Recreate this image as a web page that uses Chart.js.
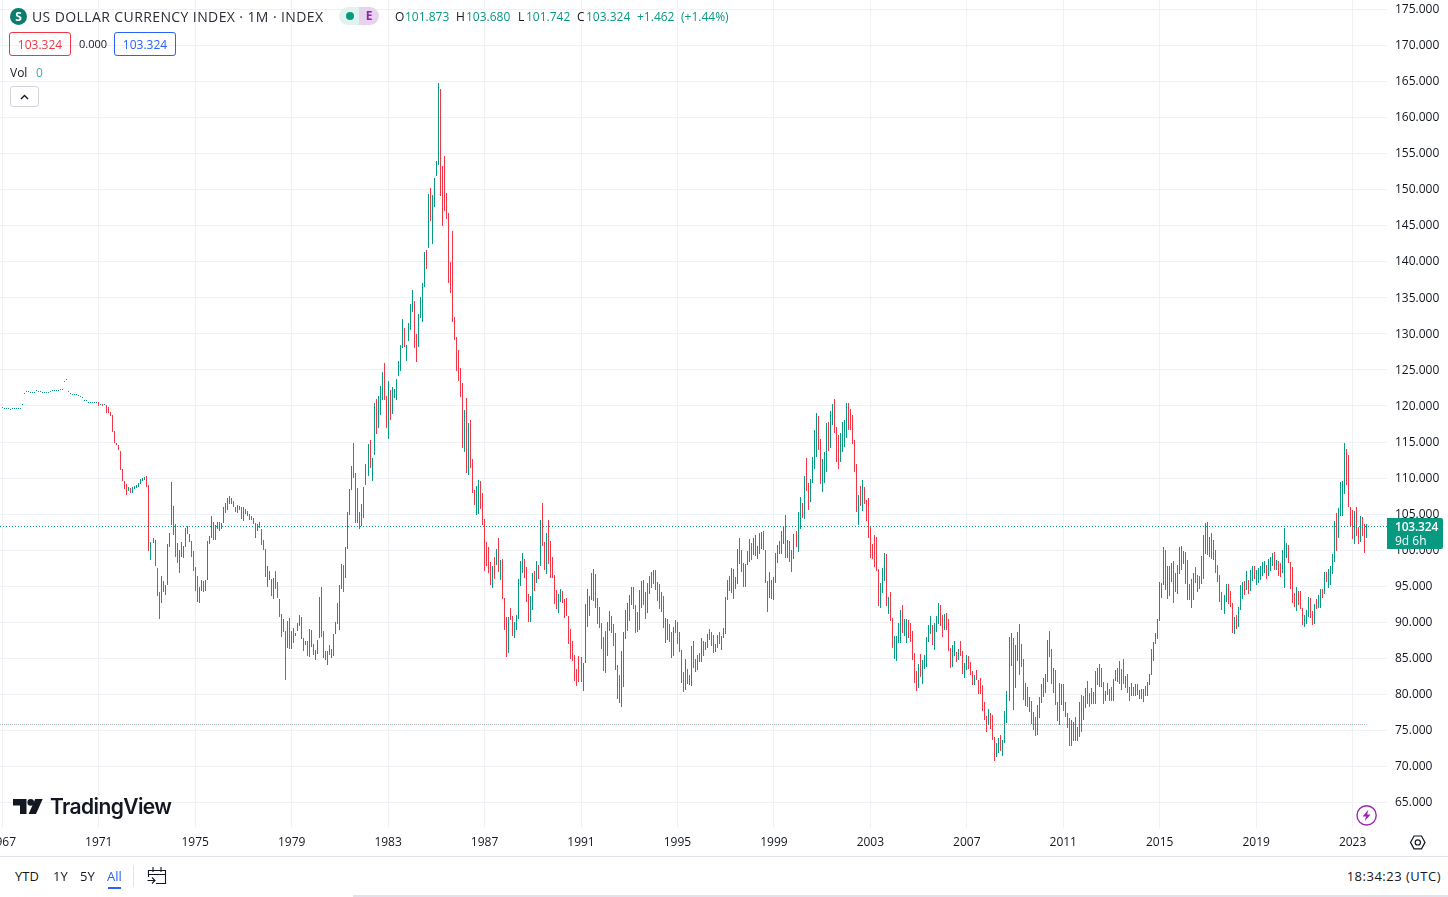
<!DOCTYPE html>
<html>
<head>
<meta charset="utf-8">
<title>US Dollar Currency Index</title>
<script src="https://cdn.jsdelivr.net/npm/chart.js@4/dist/chart.umd.min.js"></script>
<style>
  html, body { margin: 0; padding: 0; background: #fff; overflow: hidden; }
  body { width: 1448px; height: 897px; position: relative; font-family: "Open Sans", sans-serif; color: #131722; }
  canvas { position: absolute; left: 0; top: 0; }
  .t { position: absolute; white-space: nowrap; line-height: 16px; font-size: 12px; }
  .g { color: #089981; }
  .box { position: absolute; box-sizing: border-box; top: 32px; height: 24px; width: 62px; border: 1px solid; border-radius: 3px; text-align: center; line-height: 23px; font-size: 12px; }
  svg { position: absolute; overflow: visible; }
</style>
</head>
<body>
<canvas id="myChart" width="1448" height="857"></canvas>

<div style="position:absolute;left:10px;top:8px;width:17px;height:17px;border-radius:50%;background:#0a7d6c;color:#fff;font-size:12px;font-weight:700;text-align:center;line-height:17px">S</div>
<div class="t" style="left:32px;top:9px;font-size:14px;letter-spacing:.4px;color:#2a2e39">US DOLLAR CURRENCY INDEX · 1M · INDEX</div>
<div style="position:absolute;left:339px;top:7px;width:20px;height:18px;background:#e0f3ef;border-radius:9px 0 0 9px"></div>
<div style="position:absolute;left:346px;top:12px;width:8px;height:8px;background:#089981;border-radius:50%"></div>
<div style="position:absolute;left:359px;top:7px;width:20px;height:18px;background:#e7d3ee;border-radius:0 9px 9px 0;color:#8e24aa;font-size:12px;font-weight:700;text-align:center;line-height:18px">E</div>

<div class="t" style="left:395px;top:9px">O</div><div class="t g" style="left:405px;top:9px">101.873</div>
<div class="t" style="left:456px;top:9px">H</div><div class="t g" style="left:466px;top:9px">103.680</div>
<div class="t" style="left:518px;top:9px">L</div><div class="t g" style="left:526px;top:9px">101.742</div>
<div class="t" style="left:577px;top:9px">C</div><div class="t g" style="left:586px;top:9px">103.324</div>
<div class="t g" style="left:637px;top:9px">+1.462</div>
<div class="t g" style="left:681px;top:9px">(+1.44%)</div>

<div class="box" style="left:9px;border-color:#f23645;color:#f23645">103.324</div>
<div class="t" style="left:79px;top:36px;font-size:11px">0.000</div>
<div class="box" style="left:114px;border-color:#2962ff;color:#2962ff">103.324</div>

<div class="t" style="left:10px;top:65px">Vol</div>
<div class="t g" style="left:36px;top:65px;opacity:.8">0</div>
<div style="position:absolute;left:10px;top:86px;width:29px;height:21px;box-sizing:border-box;border:1px solid #d1d4dc;border-radius:3px"></div>
<svg style="left:0;top:0;z-index:2" width="1448" height="897">
  <path d="M21 99 L24.5 95.5 L28 99" fill="none" stroke="#131722" stroke-width="1.4"/>
  <path d="M13 799 H26.5 V814 H20 V805.5 H13 Z" fill="#131722"/>
  <circle cx="30.7" cy="802.4" r="3.3" fill="#131722"/>
  <path d="M35.2 799 H42.7 L36 814 H28.6 Z" fill="#131722"/>
  <circle cx="1366.6" cy="815.4" r="9.6" fill="#fff" stroke="#9c27b0" stroke-width="1.4"/>
  <path d="M1368.3 809.8 L1362.6 816.4 H1366 L1364.8 821 L1370.6 814.4 H1367.2 Z" fill="#9c27b0"/>
  <path d="M1414 836 H1421.5 L1425 842.4 L1421.5 848.8 H1414 L1410.5 842.4 Z" fill="none" stroke="#131722" stroke-width="1.2"/>
  <circle cx="1417.8" cy="842.4" r="2.6" fill="none" stroke="#131722" stroke-width="1.2"/>
  <path d="M148.5 877 V870.5 H165.5 V883.5 H156 M148.5 874.5 H165.5 M153 867 V872 M161 867 V872" fill="none" stroke="#131722" stroke-width="1.1"/>
  <path d="M147.5 880.5 H155 M152 877.5 L155 880.5 L152 883.5" fill="none" stroke="#131722" stroke-width="1.1"/>
</svg>
<div class="t" style="left:50px;top:794px;font-family:Inter,Roboto,sans-serif;font-size:21px;font-weight:600;line-height:26px;letter-spacing:-.6px">TradingView</div>

<div style="position:absolute;left:1387px;top:518px;width:56px;height:31px;background:#089981;border-radius:0 2px 2px 0;color:#fff;font-size:12px;line-height:14px;padding-top:2px;box-sizing:border-box">
  <div style="padding-left:8px;font-weight:600;letter-spacing:-.2px">103.324</div>
  <div style="padding-left:8px">9d 6h</div>
</div>

<div style="position:absolute;left:0;top:856px;width:1448px;height:1px;background:#e0e3eb"></div>
<div class="t" style="left:15px;top:868px;font-size:13px">YTD</div>
<div class="t" style="left:53px;top:868px;font-size:13px">1Y</div>
<div class="t" style="left:80px;top:868px;font-size:13px">5Y</div>
<div class="t" style="left:107px;top:868px;font-size:13px;color:#2962ff">All</div>
<div style="position:absolute;left:108px;top:887px;width:13px;height:2px;background:#2962ff"></div>
<div style="position:absolute;left:133px;top:865px;width:1px;height:22px;background:#e0e3eb"></div>
<div class="t" style="right:7px;top:868px;font-size:13px;letter-spacing:.5px">18:34:23 (UTC)</div>
<div style="position:absolute;left:353px;top:895px;width:1095px;height:2px;background:#e0e3eb"></div>

<script>
// monthly bars, January 1967 to August 2023, one row per year
var highs = [
  119.8,119.75,119.75,119.7,119.65,119.7,119.7,119.7,119.7,119.7,120.3,121.8,
  122.1,122.1,122,122,122,122.2,122.1,122.1,121.95,121.95,121.95,121.95,
  122.1,122.25,122.25,122.25,122.25,122.4,122.4,123.5,123.75,122.1,121.8,121.65,
  121.65,121.65,121.5,121.4,121.2,120.9,120.8,120.6,120.55,120.55,120.55,120.55,
  120.6,120.3,120.3,120.3,120.2,119.8,119.2,118.8,116.6,114.9,114.6,113.8,
  111.3,109.55,109.15,108.8,108.65,108.8,108.9,109.05,109.3,109.85,110,110.2,
  110.35,109.05,101.15,101.7,101.45,97.55,94.2,96.45,95.75,95.2,100.9,102.4,
  109.5,106.15,103.65,101.05,100.05,101.15,100.6,103.1,103.4,102.25,101.3,99.9,
  97.7,96.45,94.9,95.9,95.75,95.9,101.3,102,104.75,103.95,103.5,103.95,
  103.95,103.8,106,106.55,107.25,107.55,107.25,106.85,106,106.3,106.15,106,
  106,105.75,105.45,105.05,104.75,104.5,103.8,103.65,103.95,102.95,101.45,100.2,
  97.8,97.1,96,96.15,97.1,95.6,93.25,91.15,90.45,88.8,90.2,90.6,
  88.8,89.2,88.5,89.9,91,90.75,87.85,87.4,87.4,89.1,88.95,87,
  86.15,87.55,93.5,94.9,88.8,86.05,86.05,86.85,86.3,88.4,90.05,92.7,
  95.2,98.1,98,100.45,105.3,108.5,111.7,114.9,110.75,108.65,105.3,106.45,
  108.8,111.95,114.75,115.3,112.8,120.45,121,121.45,122.8,124.75,126,121.45,
  123.4,122.25,122.7,122.4,123.8,126.3,128.5,132,130.75,128.5,131.45,134.1,
  136.15,134.6,130.05,132.7,135.05,137,141.3,141.7,149.35,150.2,149.2,151.55,
  153.95,164.75,163.9,153.25,154.6,149.5,146.7,139.9,144.2,132.4,129.5,127.7,
  125.2,123.25,119.5,121.15,117.7,118.1,112.7,108.4,108.95,109.75,109.65,107.95,
  104.35,101.15,100.45,98.35,97.8,99.1,100.2,101.7,98.65,98.8,93.4,90.75,
  90.75,92,90.9,90.05,91,96,98.5,99.6,98.8,97.7,93.95,93.65,
  96.85,97.1,98.5,97.95,104.2,106.55,101.15,102.4,104.2,101.3,99.1,96.55,
  94.5,93.95,94.65,94.35,93.25,93.4,90.9,89.1,87.4,85.45,83.5,85.3,
  85.15,84.35,92.55,94.6,93.65,96.85,97.4,96.7,93.35,92.15,89.9,87.95,
  88.8,90.05,91.55,90.9,89.75,88.5,84.05,82.7,86,88.65,91.7,92.7,
  93.8,94.9,94.9,92.4,91.45,94.5,95.75,95.9,94.2,95.45,96.45,97,
  97.25,97.25,95.6,95.3,94.2,93.65,90.6,90.45,89.75,88.65,89.35,90.3,
  90.05,88.65,86.15,83.1,84.9,83.5,82.7,86.7,87.4,84.9,85.45,85.75,
  87.8,87.4,87.25,88.4,89.05,88.65,88.25,87,88.25,88.65,88.1,89.2,
  93.5,95.9,96.45,97.55,97.4,96.3,100.2,101.7,100.05,98.25,98.1,99.9,
  101.55,101,101.7,102.15,100.6,102.4,102.55,102.7,100.05,95.75,97,95.9,
  96.3,99.65,100.75,101.3,102.7,103.4,104.9,101.45,101.3,100.05,102.25,102.7,
  105.3,107.4,106.55,110.3,112.8,109.3,109.9,112.95,116.7,119.05,118.65,115.45,
  112.7,113.65,117.7,117.8,119.35,120.3,121,117.15,116,116.3,117.8,118.1,
  120.45,120.45,119.6,118.8,115.3,111.95,107.6,108.85,109.7,108.75,106.95,107.25,
  103.25,100.9,102.15,101.85,97.4,95.45,97.55,99.65,99.5,93.5,94.2,90.6,
  88.1,88.1,89.9,91.7,92.4,90.45,90.45,90.3,89.9,88.8,85.75,83.25,
  84.2,85.6,84.75,85.45,87.95,89.6,90.9,89.6,89.9,90.9,92.7,92.4,
  91,91.15,91.3,90.45,86.45,86.85,87.4,85.9,86.3,87.4,86,84.35,
  85.45,85.3,84.5,83.25,82.7,83.4,82,82.25,81.3,78.9,77,77.95,
  77.4,77.1,74.05,73.25,73.95,74.35,73.65,77.7,80.45,87.95,88.5,87.8,
  86.85,88.65,89.75,87,84.9,81.55,81,79.65,79.05,77.55,76.85,78.5,
  79.65,81.45,82.25,82.8,87.55,88.8,86.3,83.65,83.4,78.95,81.55,81.45,
  81.45,78.95,77.4,76.7,76.45,76.15,76.85,75.45,78.95,79.9,79.75,80.9,
  81.85,80.2,80.9,80.3,83.25,83.65,84.2,83.65,81.7,80.45,81.55,80.75,
  81,82.15,83.4,83.65,84.65,83.5,84.9,82.55,82.8,81,81.55,81,
  81.45,81.45,80.6,80.75,80.75,81.15,81.7,82.8,86.3,87.25,88.5,90.45,
  95.6,95.45,100.45,100.05,97.8,97.8,98.25,98.5,96.85,97.95,100.45,100.6,
  99.9,99.75,98.65,95.3,96,96.85,97.7,96.55,96.45,99.2,102.15,103.8,
  103.95,101.85,102.4,101.45,100.05,97.95,96.55,94.2,93.8,95.3,95.3,94.35,
  92.7,90.75,91,92.15,95.2,95.6,95.75,97.15,95.9,97.25,97.8,97.8,
  97.25,97.55,97.8,98.4,98.5,97.95,98.8,99.05,99.65,99.75,98.65,98.5,
  98.25,100.05,103.1,101,100.75,98.4,97.7,94.05,94.9,94.35,94.35,92,
  91,91.7,93.5,93.4,91.55,92.55,93.25,93.8,94.65,94.65,97,97,
  97.4,97.8,99.5,104.05,105.2,105.9,109.5,109.65,114.9,114.05,113.25,106,
  105.6,105.45,106,103.25,104.75,104.6,103.65,103.68
];

var lows = [
  119.66,119.61,119.61,119.56,119.51,119.56,119.56,119.56,119.56,119.56,120.16,121.66,
  121.96,121.96,121.86,121.86,121.86,122.06,121.96,121.96,121.81,121.81,121.81,121.81,
  121.96,122.11,122.11,122.11,122.11,122.26,122.26,123.36,123.61,121.96,121.66,121.51,
  121.51,121.51,121.36,121.26,121.06,120.76,120.66,120.46,120.41,120.41,120.41,120.41,
  120.05,120.16,120.05,120.1,119,119,118.65,116.35,114.8,114.55,113.95,111.1,
  109.55,108.5,107.7,108.25,108,108,108.5,108.6,108.8,109.2,109.55,109.8,
  108.8,99.9,98.65,101.05,97.8,93.65,90.45,92.7,94.2,93.8,95.2,100.45,
  103.5,102.15,99.1,98.25,96.85,99.1,98.95,100.45,102.25,101.15,99.1,97.1,
  94.35,92.85,92.7,94.35,94.2,94.35,95.9,100.9,101.7,101.45,101.45,103,
  102.7,103,103.8,105.2,105.6,106.45,106.45,106,105.3,105.2,105.6,104.35,
  104.1,105.05,104.75,104.2,104.2,103.65,101.7,102.7,103.1,100.75,100.05,96.3,
  94.9,95.9,93.65,93.25,94.65,93.4,90.75,87.95,88.65,82,86.45,86.3,
  86.3,87.15,88.1,88.8,89.5,87.7,86.05,86.85,85.3,85.2,86.6,85.45,
  84.75,85.6,87.85,87.95,85.05,84.8,84.1,85.45,85.05,85.3,88.4,89.8,
  88.95,94.65,94.2,96.15,100.2,104.9,108.4,110.05,103.8,103.8,103,103.4,
  104.5,109.1,110.3,111.45,109.6,113.25,116.15,117,118.8,120.9,120.9,117,
  115.45,118,118.95,121.15,120.9,124.2,124.9,128.1,128.25,126.3,128.95,130.6,
  133.1,128.1,126.15,128.25,132.15,131.6,136.55,139.05,141.85,145.6,142.4,147.55,
  151.85,153.4,149.1,144.9,147.1,146,137.1,135.6,131.6,129.2,124.8,123.4,
  121.2,114.2,113.65,110.75,110.45,111.45,108,106.3,104.9,105.05,105.75,103.5,
  97.1,97.8,96.85,95.2,94.75,96,98,97,95.9,93.25,88.95,85.2,
  85.75,90.3,88.1,87.8,88.95,90.45,95.05,96.85,96.15,92.85,90.05,90.05,
  91.7,94.35,95.45,96,97.8,100.6,97.25,96.7,98.1,96.15,96.15,92.55,
  91.85,91.3,92.85,92.7,90.6,90.9,87,84.9,84.65,81.85,81.15,81.7,
  81.7,80.45,84.35,89.35,90.9,93.1,92.95,92,89.75,89.2,86.3,83.25,
  83,85.3,88.8,88.5,86.7,83.4,79.35,78.8,78.25,81,87.7,88.8,
  90.2,92.4,91.85,88.5,88.65,88.95,92,92.4,90.45,91.3,93.95,94.75,
  95.3,94.5,92.95,91.85,91.45,89.2,87.15,87.55,87.25,85.05,85.3,88.5,
  87,85.9,81.55,80.3,80.6,81.45,81.3,81.15,83.65,83.1,83.4,84.5,
  84.5,85.3,86.15,86.45,87.55,86.7,85.75,85.9,86.45,87,86.15,87.8,
  88.4,93.1,94.35,94.05,93.25,94.6,95.3,98.1,97,94.9,94.9,97.95,
  98.4,98.65,99.35,99.2,98.8,99.5,100.2,100.05,95.45,91.45,93.4,93.25,
  93.1,95.45,98.25,99.5,99.5,100.9,98.95,98.95,98.4,97,98.8,100.45,
  99.75,102.95,104.5,104.35,108.2,105.55,106.7,109.35,111.3,112.95,113.95,109.2,
  108.1,109.35,110.9,113.8,114.2,117.4,116.3,112.3,111.3,112.3,113.65,114.35,
  115.6,116.7,116.7,114.75,110.9,105.3,103.45,106.1,105.4,106.4,104.05,101.7,
  98.95,98.8,97.7,97.15,92.25,92,94.05,95.75,92.25,91.15,90.2,86.45,
  84.9,84.65,87.15,87.15,88.5,88.1,87.15,87.8,87.3,84.75,81.6,80.45,
  80.85,82.4,81.45,83.5,83.8,87.3,88.4,86.85,86.15,88.65,89.75,89.5,
  87.95,88.95,88.95,86,83.65,83.8,85.3,84.5,84.75,85.3,82.8,82.25,
  83.4,83.5,82.7,81.3,81.3,82,80.05,80.05,77.7,76.45,74.75,75.75,
  75.2,73.65,70.75,71.3,71.85,72.1,71.45,73.25,76,79.05,83.95,77.8,
  80.9,84.6,82.7,83.8,79.2,78.4,78.25,77.55,75.9,75.05,74.2,74.35,
  76.7,78.8,79.65,80.2,81.7,85.2,81.45,80.2,78.5,76.3,75.75,78.5,
  77.7,76.85,75.3,72.8,72.8,73.5,73.5,73.5,74.1,74.75,76.45,78.1,
  78.65,78.25,78.65,78.65,78.65,81.3,81,81,78.65,79.05,79.9,79.05,
  79.05,79.05,81.85,81.7,81.45,80.6,81.45,80.9,80.2,79.05,79.75,79.75,
  79.75,79.9,79.35,79.35,78.95,79.75,79.75,81.3,82.7,84.65,87,87.7,
  90.2,93.4,95.2,94.5,93.25,93.65,95.6,92.7,94.2,93.95,96.7,97.25,
  98.1,95.3,93.1,93.1,92,93.1,95.45,94.2,94.65,95.3,96,99.5,
  99.35,99.05,98.8,98.65,96.85,95.6,92.8,91.7,91.15,92.8,92.55,92.15,
  88.5,88.4,89.05,89.35,91.7,93.25,93.8,94.5,93.95,94.35,95.75,96,
  95.2,95.45,95.9,96.45,96.85,96,96.45,97.15,97.8,97.25,97.25,96.45,
  96.3,96.85,94.75,98.95,98.25,94.65,92.7,92.15,91.55,92.4,91.85,89.65,
  89.35,89.75,90.75,90.6,89.65,89.75,91.85,92,92,93.4,93.95,95.6,
  94.75,95.2,96.7,98.4,99.9,101.7,104.75,104.75,107.8,109.05,106,103.4,
  101.55,100.9,102,100.9,101.15,102,99.65,101.742
];

// u = month closed up, d = month closed down, one string per year from 1967
var moves = [
  'uuuuuuuuuuuu','uuuuuuuuuuuu','uuuuuuuuuuuu','uuuuuuuuuuuu',
  'dududddddddd','ddduduuuuuuu','ddudddduduuu','uddduuuudddd',
  'dduuduuuuduu','uuuuuddddudd','uddddddudddd','uududdddddud',
  'uduuuddududd','uuuddduduuud','uuduuuuddddu','uuuduuduuudd',
  'uduuuuuuduuu','udduuuududuu','uudddddddddd','ddududdduudd',
  'ddddudududdd','udduuuuudddu','udududdudddd','duuddddddddd',
  'duuuuudddddd','uuuudddduuuu','uuddduudduuu','dddddduuddud',
  'dddduduuddud','udduddduuduu','uududuuddduu','ududuuudddud',
  'uuuuuududuud','uududduuuudd','uuuduuddduuu','udddddududdd',
  'ddddduuududd','uuuuduuddddd','uduuuuuduuud','duddduududdu',
  'uddduddddddu','ddduuduuuuud','uuddduddddd' + 'u','uuuuudduddud',
  'ddddudduuduu','ddudududduud','duududduddud','udududuuuuuu',
  'uuudududuuud','uddduududuuu','dudddddduudd','duduuududuud',
  'uuuuuduuudud','duuudddduddd','uuudduduudud','uuuuduuuuddd',
  'dudduddu'
];

var yearLabels = ['1967','1971','1975','1979','1983','1987','1991','1995','1999','2003','2007','2011','2015','2019','2023'];
var priceTicks = [65,70,75,80,85,90,95,100,105,110,115,120,125,130,135,140,145,150,155,160,165,170,175];
var lastClose = [103.324];
var baseLine = [75.83];

var GREEN = '#089981';
var RED = '#f23645';
var FONT = { family: '"Open Sans", sans-serif', size: 12 };

// the x axis is counted in months since January 1967
var xMin = -1.1446, xMax = 689.115;
var lastBar = highs.length - 1;

var bars = [], barColors = [];
for (var i = 0; i < highs.length; i++) {
    bars.push({ x: i, y: [lows[i], highs[i]] });
    var m = moves[Math.floor(i / 12)].charAt(i % 12);
    barColors.push(m === 'u' ? GREEN : RED);
}

// keep thin marks on whole pixels so they stay sharp
var snapPlugin = {
    id: 'snap',
    afterDatasetsUpdate: function (chart) {
        chart.data.datasets.forEach(function (ds, n) {
            chart.getDatasetMeta(n).data.forEach(function (el) {
                if (ds.type === 'line') {
                    el.y = Math.floor(el.y) + 0.5;
                } else {
                    el.x = Math.floor(el.x) + 0.5;
                    el.y = Math.round(el.y);
                    el.base = Math.max(Math.round(el.base), el.y + 1);
                }
            });
        });
    }
};

new Chart('myChart', {
    type: 'bar',
    plugins: [snapPlugin],
    data: {
        datasets: [
            {
                type: 'line', data: [{ x: xMin, y: baseLine[0] }, { x: lastBar, y: baseLine[0] }],
                borderColor: '#7fd6c6', borderWidth: 1, borderDash: [1, 3], pointRadius: 0, order: 3
            },
            {
                type: 'line', data: [{ x: xMin, y: baseLine[0] }, { x: lastBar, y: baseLine[0] }],
                borderColor: '#f7929a', borderWidth: 1, borderDash: [1, 3], borderDashOffset: 2, pointRadius: 0, order: 3
            },
            {
                type: 'bar', data: bars, backgroundColor: barColors,
                barThickness: 1, inflateAmount: 0, borderWidth: 0, order: 2
            },
            {
                type: 'line', data: [{ x: xMin, y: lastClose[0] }, { x: xMax, y: lastClose[0] }],
                borderColor: GREEN, borderWidth: 1, borderDash: [1, 2], pointRadius: 0, order: 1
            }
        ]
    },
    options: {
        responsive: false,
        animation: false,
        devicePixelRatio: 1,
        layout: { padding: 0 },
        plugins: { legend: { display: false }, tooltip: { enabled: false } },
        scales: {
            x: {
                type: 'linear', min: xMin, max: xMax, offset: false,
                grid: { color: '#f0f1f4', drawTicks: false, offset: false },
                border: { display: false },
                ticks: {
                    autoSkip: false, maxRotation: 0, padding: 7, color: '#131722', font: FONT,
                    callback: function (v) { return yearLabels[v / 48]; }
                },
                afterBuildTicks: function (s) {
                    s.ticks = yearLabels.map(function (y, n) { return { value: n * 48 }; });
                },
                afterFit: function (s) { s.height = 29; s.paddingLeft = 0; s.paddingRight = 0; }
            },
            y: {
                position: 'right', min: 61.48, max: 176.3,
                grid: { color: '#f0f1f4', drawTicks: false },
                border: { display: false },
                ticks: {
                    padding: 8, color: '#131722', font: FONT, labelOffset: 0.3,
                    callback: function (v) { return v.toFixed(3); }
                },
                afterBuildTicks: function (s) {
                    s.ticks = priceTicks.map(function (v) { return { value: v }; });
                },
                afterFit: function (s) { s.width = 61; s.paddingTop = 0; s.paddingBottom = 0; }
            }
        }
    }
});
</script>
</body>
</html>
